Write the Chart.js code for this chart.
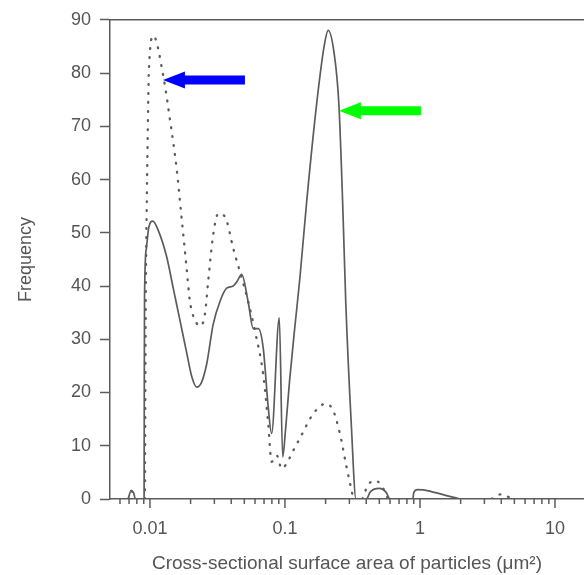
<!DOCTYPE html>
<html><head><meta charset="utf-8">
<script src="https://cdn.jsdelivr.net/npm/chart.js@4/dist/chart.umd.min.js"></script>
<style>html,body{margin:0;padding:0;background:#fff;} #wrap{width:584px;height:575px;position:relative;}</style>
</head><body><div id="wrap"><canvas id="c"></canvas></div>
<script>
// ---- data ----
const xTickLabels = [0.01, 0.1, 1, 10];
const yTickStep = 10;
const xRange = [0.00506, 16.4];
const yRange = [0, 90];

const solidX = [0.0069, 0.00725, 0.0076, 0.0078, 0.00905, 0.00908, 0.00912, 0.0094, 0.0098, 0.0105, 0.0115, 0.0133, 0.0149, 0.0167, 0.0187, 0.0205, 0.0222, 0.024, 0.0263, 0.0294, 0.033, 0.037, 0.0414, 0.0445, 0.0478, 0.0534, 0.0582, 0.0634, 0.069, 0.0752, 0.0796, 0.0908, 0.0962, 0.101, 0.108, 0.118, 0.129, 0.145, 0.172, 0.195, 0.209, 0.231, 0.251, 0.268, 0.282, 0.31, 0.336, 0.40, 0.43, 0.5, 0.56, 0.6, 0.885, 0.9, 0.96, 1.05, 1.3, 1.6, 1.98];
const solidY = [0, 1.6, 1.0, 0, 0, 20, 38, 47, 51, 52.2, 50.5, 45.5, 39.5, 33.5, 27.5, 22.8, 21, 21.8, 25.3, 32.8, 37.1, 39.6, 40, 41, 42.2, 37, 32, 32, 28.4, 17.2, 12.3, 34, 7.9, 13, 22, 32, 41.5, 56, 74.4, 85, 88, 83.8, 74, 55, 37, 14, 0, 0, 1.4, 2, 1.3, 0, 0, 1.2, 1.75, 1.7, 1.2, 0.6, 0];

const dottedX = [0.0069, 0.0073, 0.0077, null, 0.00918, 0.0093, 0.0095, 0.00962, 0.00983, 0.0106, 0.01256, 0.01406, 0.01577, 0.01717, 0.0187, 0.01978, 0.0222, 0.0234, 0.0255, 0.027, 0.0294, 0.0321, 0.036, 0.0414, 0.0478, 0.0534, 0.06, 0.069, 0.0752, 0.0796, 0.0868, 0.0946, 0.103, 0.1152, 0.129, 0.162, 0.2, 0.2277, 0.255, 0.286, 0.321, null, 0.375, 0.41, 0.464, 0.52, 0.58, null, 3.4, 3.7, 4.0, 4.5, 4.8];
const dottedY = [0, 1.5, 0, null, 0, 35, 58, 68, 80.7, 87, 79.4, 71.3, 62, 52.7, 43.3, 37.1, 33, 32.5, 34.6, 40.9, 49.6, 53.6, 53, 47.1, 41.5, 37.1, 31.5, 23.4, 14.1, 7, 8.2, 5.7, 6.7, 9.1, 11.4, 16, 17.9, 16.6, 12.3, 6, 0, null, 0, 2.5, 3.5, 2.5, 0, null, 0, 0.6, 0.9, 0.4, 0];

const arrowTipX = [0.01248, 0.251];
const arrowTipY = [78.7, 72.9];
const arrowColors = ['#0000ff', '#00ff00'];

// ---- build ----
const toPts = (xs, ys) => xs.map((x, i) => ({x: x === null ? (xs[i-1] * 1.01) : x, y: ys[i]}));
const GRAY = '#5c5c5c';
const TXT = '#555555';
const FONT = 'Liberation Sans, Arial, sans-serif';

const deco = {
  id: 'deco',
  afterDraw(chart) {
    const {ctx, chartArea: a, scales: {x, y}} = chart;
    ctx.save();
    ctx.strokeStyle = GRAY; ctx.lineWidth = 1.5;
    ctx.beginPath(); ctx.moveTo(a.left, a.top); ctx.lineTo(a.right, a.top); ctx.stroke();
    x.ticks.forEach(t => {
      const v = t.value;
      const e = Math.floor(Math.log10(v) + 1e-9);
      const m = v / Math.pow(10, e);
      if (Math.abs(m - Math.round(m)) > 1e-6) return;
      const px = x.getPixelForValue(v);
      const len = Math.round(m) === 1 ? 9 : 5;
      ctx.beginPath(); ctx.moveTo(px, a.bottom); ctx.lineTo(px, a.bottom + len); ctx.stroke();
    });
    for (let i = 0; i < arrowTipX.length; i++) {
      const tx = x.getPixelForValue(arrowTipX[i]);
      const ty = y.getPixelForValue(arrowTipY[i]);
      ctx.fillStyle = arrowColors[i];
      ctx.beginPath();
      ctx.moveTo(tx, ty);
      ctx.lineTo(tx + 22, ty - 8.5);
      ctx.lineTo(tx + 22, ty - 4.5);
      ctx.lineTo(tx + 82, ty - 4.5);
      ctx.lineTo(tx + 82, ty + 4.5);
      ctx.lineTo(tx + 22, ty + 4.5);
      ctx.lineTo(tx + 22, ty + 8.5);
      ctx.closePath();
      ctx.fill();
    }
    ctx.restore();
  }
};

new Chart(document.getElementById('c'), {
  type: 'line',
  data: {
    datasets: [
      { data: toPts(solidX, solidY), borderColor: GRAY, borderWidth: 1.7, pointRadius: 0, fill: false, cubicInterpolationMode: 'monotone' },
      { data: toPts(dottedX, dottedY), borderColor: GRAY, borderWidth: 2.3, borderDash: [0.8, 8.2], borderCapStyle: 'round', pointRadius: 0, fill: false, cubicInterpolationMode: 'monotone', spanGaps: false }
    ]
  },
  options: {
    responsive: true, maintainAspectRatio: false, animation: false,
    layout: { padding: { top: 17, right: 0, bottom: 0, left: 0 } },
    plugins: { legend: { display: false }, tooltip: { enabled: false } },
    scales: {
      x: {
        type: 'logarithmic', min: xRange[0], max: xRange[1],
        grid: { display: true, drawOnChartArea: false, drawTicks: true, tickLength: 19, tickColor: 'rgba(0,0,0,0)' },
        border: { display: true, color: GRAY, width: 1.5 },
        ticks: {
          autoSkip: false, maxRotation: 0, padding: 0, color: TXT,
          font: { family: FONT, size: 18 },
          callback: v => { const t = xTickLabels.find(t => Math.abs(v / t - 1) < 1e-6); return t === undefined ? '' : String(t); }
        },
        title: { display: true, text: 'Cross-sectional surface area of particles (μm²)', color: TXT, font: { family: FONT, size: 19 }, padding: { top: 0, bottom: 0 } },
        afterFit: s => { s.height = 76; s.paddingRight = 0; }
      },
      y: {
        min: yRange[0], max: yRange[1],
        ticks: { stepSize: yTickStep, padding: 9, color: TXT, font: { family: FONT, size: 18 } },
        grid: { drawOnChartArea: false, drawTicks: true, tickLength: 10, tickColor: GRAY, tickWidth: 1.5 },
        border: { display: true, color: GRAY, width: 1.5 },
        title: { display: true, text: 'Frequency', color: TXT, font: { family: FONT, size: 18 }, padding: { top: 15, bottom: 0 } },
        afterFit: s => { s.width = 110; }
      }
    }
  },
  plugins: [deco]
});
</script></body></html>
